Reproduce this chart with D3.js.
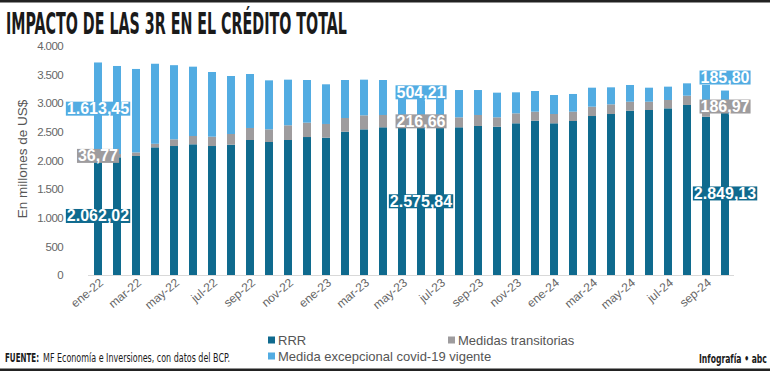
<!DOCTYPE html>
<html><head><meta charset="utf-8">
<script src="https://cdn.jsdelivr.net/npm/d3@7"></script>
<style>
html,body{margin:0;padding:0;background:#fff;}
svg{display:block;}
</style></head>
<body>
<svg id="c" width="770" height="371"></svg>
<script>
const months = ["ene-22","feb-22","mar-22","abr-22","may-22","jun-22","jul-22","ago-22","sep-22","oct-22","nov-22","dic-22",
"ene-23","feb-23","mar-23","abr-23","may-23","jun-23","jul-23","ago-23","sep-23","oct-23","nov-23","dic-23",
"ene-24","feb-24","mar-24","abr-24","may-24","jun-24","jul-24","ago-24","sep-24","oct-24"];
const tickLabels = ["ene-22","mar-22","may-22","jul-22","sep-22","nov-22","ene-23","mar-23","may-23","jul-23","sep-23","nov-23","ene-24","mar-24","may-24","jul-24","sep-24"];
const rrr = [2062.02,2056,2079,2230,2253,2283,2253,2276,2358,2323,2358,2410,2399,2504,2544,2580,2580,2575.84,2580,2580,2603,2591,2650,2696,2650,2690,2777,2812,2870,2882,2911,2970,2765,2849.13];
const transitorias = [36.77,57,62,62,117,145,163,187,210,222,257,251,239,238,245,215,216,216.66,215,174,192,163,174,157,162,163,163,169,157,145,146,162,235,186.97];
const covid = [1613.45,1538,1458,1398,1295,1211,1130,1013,943,855,797,745,693,664,623,611,494,504.21,495,477,436,431,367,361,332,309,332,297,292,245,233,216,319,185.80];
const labeledMonths = ["ene-22","jun-23","oct-24"];
const yTicks = [0,500,1000,1500,2000,2500,3000,3500,4000];
const seriesNames = ["RRR","Medidas transitorias","Medida excepcional covid-19 vigente"];
const colors = ["#0f6a8e","#9e9c9e","#52ace2"];

const loc = d3.formatLocale({decimal:",",thousands:".",grouping:[3],currency:["","$"]});
const fmt2 = loc.format(",.2f"), fmt0 = loc.format(",.0f");
const narrow = "'Liberation Sans Narrow','DejaVu Sans Condensed','Arial Narrow',sans-serif";
const sans = "'Liberation Sans',Arial,sans-serif";

const svg = d3.select("#c");
const data = months.map((m,i)=>({m, rrr:rrr[i], tr:transitorias[i], cv:covid[i]}));
const keys = ["rrr","tr","cv"];
const stack = d3.stack().keys(keys)(data);

const x = d3.scaleBand().domain(months).range([88.5,734.5]).paddingInner(0.58).paddingOuter(0.29);
const y = d3.scaleLinear().domain([0,4000]).range([275,46]);

// fitted text helper: scales horizontally so the text spans the given width
function fitText(tx, ty, width, size, weight, txt, anchor){
  const t = svg.append("text").attr("font-family",narrow).attr("font-weight",weight)
    .attr("font-size",size).attr("fill","#1a1a1a").text(txt);
  const w = t.node().getComputedTextLength();
  const k = width / w;
  const x0 = anchor === "end" ? tx - width : tx;
  t.attr("transform",`translate(${x0},${ty}) scale(${k},1)`);
  return t;
}

// top & bottom rules
svg.append("rect").attr("x",0).attr("y",0).attr("width",770).attr("height",2.5).attr("fill","#222");
svg.append("rect").attr("x",0).attr("y",368.5).attr("width",770).attr("height",2.5).attr("fill","#222");

// title
fitText(6, 33.5, 341, 29.5, "bold", "IMPACTO DE LAS 3R EN EL CRÉDITO TOTAL");

// bars
const g = svg.append("g");
stack.forEach((s,si)=>{
  g.selectAll(null).data(s).enter().append("rect")
    .attr("x",d=>x(d.data.m)).attr("width",x.bandwidth())
    .attr("y",d=>y(d[1])).attr("height",d=>y(d[0])-y(d[1]))
    .attr("fill",colors[si]);
});

// baseline
svg.append("line").attr("x1",88).attr("x2",734).attr("y1",y(0)+0.5).attr("y2",y(0)+0.5)
  .attr("stroke","#d9d9d9").attr("stroke-width",1);

// y axis
const yAxis = d3.axisLeft(y).tickValues(yTicks).tickFormat(fmt0).tickSize(0).tickPadding(0);
const ya = svg.append("g").attr("transform","translate(63,0)").call(yAxis);
ya.select(".domain").remove();
ya.selectAll("text").attr("font-family",sans).attr("font-size",11.5)
  .attr("fill","#666").attr("letter-spacing","-0.6");

svg.append("text").attr("transform","translate(27,159) rotate(-90)")
  .attr("text-anchor","middle").attr("font-family",sans)
  .attr("font-size",13.5).attr("fill","#555").text("En millones de US$");

// x axis
const xAxis = d3.axisBottom(x).tickValues(tickLabels).tickSize(0).tickPadding(0);
const xa = svg.append("g").attr("transform","translate(0,276)").call(xAxis);
xa.select(".domain").remove();
xa.selectAll("text").attr("font-family",sans).attr("font-size",12)
  .attr("fill","#666").attr("text-anchor","end").attr("dy",0)
  .attr("transform","translate(6,8) rotate(-40)");

// value labels
const lg = svg.append("g");
function label(cx, cy, txt, col){
  const t = lg.append("text").attr("x",cx).attr("y",cy).attr("text-anchor","middle")
    .attr("dominant-baseline","central")
    .attr("font-family",sans).attr("font-weight","bold")
    .attr("font-size",16).attr("fill","#fff").text(txt);
  const b = t.node().getBBox();
  lg.insert("rect","text").attr("x",b.x-1).attr("y",cy-7).attr("width",b.width+2).attr("height",14).attr("fill",col);
  return t;
}
labeledMonths.forEach(m=>{
  const i = months.indexOf(m);
  const cx = x(m)+x.bandwidth()/2;
  const dY = (y(0)+y(rrr[i]))/2;
  const gY = (y(rrr[i])+y(rrr[i]+transitorias[i]))/2;
  let cY = (y(rrr[i]+transitorias[i])+y(rrr[i]+transitorias[i]+covid[i]))/2;
  cY = Math.min(cY, gY-29);
  const pieces = [[cx,dY,fmt2(rrr[i]),colors[0]],[cx,gY,fmt2(transitorias[i]),colors[1]],[cx,cY,fmt2(covid[i]),colors[2]]];
  pieces.forEach(p=>label(...p));
});

// legend
const legPos = [[268,340],[448,340],[268,356]];
seriesNames.forEach((n,i)=>{
  const [lx,ly] = legPos[i];
  svg.append("rect").attr("x",lx).attr("y",ly-3.5).attr("width",7).attr("height",7).attr("fill",colors[i]);
  svg.append("text").attr("x",lx+10).attr("y",ly).attr("dominant-baseline","central")
    .attr("font-family",sans).attr("font-size",13).attr("fill","#555").text(n);
});

// source & credit
fitText(5, 362, 34, 12, "bold", "FUENTE:");
fitText(43, 362, 187, 12, "normal", "MF Economía e Inversiones, con datos del BCP.");
fitText(767, 363, 68, 11.5, "bold", "Infografía • abc", "end");
</script>
</body></html>
